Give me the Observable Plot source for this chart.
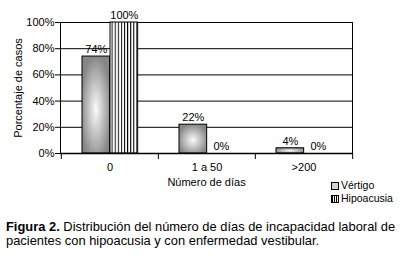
<!DOCTYPE html>
<html>
<head>
<meta charset="utf-8">
<script src="https://cdn.jsdelivr.net/npm/d3@7"></script>
<script src="https://cdn.jsdelivr.net/npm/@observablehq/plot@0.6"></script>
<style>
  html, body { margin: 0; padding: 0; background: #fff; }
  #wrap { position: relative; width: 408px; height: 260px; font-family: "Liberation Sans", Arial, sans-serif; }
  #legend { position: absolute; left: 331px; top: 179px; font-size: 10.5px; color: #000; line-height: 13px; }
  #legend .row { display: flex; align-items: center; height: 13px; }
  #legend .sw { width: 8px; height: 8px; border: 1px solid #000; margin-right: 2px; box-sizing: border-box; }
  #caption { position: absolute; left: 6px; top: 220px; width: 402px; font-size: 12.9px; line-height: 14px; color: #000; }
  #caption div { white-space: nowrap; }
</style>
</head>
<body>
<div id="wrap">
  <div id="chart"></div>
  <div id="legend"></div>
  <div id="caption"><div><b>Figura 2.</b><span> Distribución del número de días de incapacidad laboral de</span></div><div>pacientes con hipoacusia y con enfermedad vestibular.</div></div>
</div>
<script>
const categories = ["0", "1 a 50", ">200"];
const series = ["Vértigo", "Hipoacusia"];
const vertigo = [0.74, 0.22, 0.04];
const hipoacusia = [1.00, 0.00, 0.00];
const yTicks = [0, 0.2, 0.4, 0.6, 0.8, 1.0];

const data = [];
categories.forEach((c, i) => {
  data.push({cat: c, serie: "Vértigo", value: vertigo[i]});
  data.push({cat: c, serie: "Hipoacusia", value: hipoacusia[i]});
});

const W = 408, H = 195, ML = 60, MR = 56, MT = 22, MB = 42;
const bw = (W - ML - MR) / categories.length;
const barW = 28, off1 = 21, off2 = 49;
const pct = d3.format(".0%");

const fills = {"Vértigo": "url(#gradV)", "Hipoacusia": "url(#stripes)"};
const insL = {"Vértigo": off1, "Hipoacusia": off2};

const plot = Plot.plot({
  width: W, height: H,
  marginLeft: ML, marginRight: MR, marginTop: MT, marginBottom: MB,
  style: {fontFamily: "Liberation Sans, Arial, sans-serif", fontSize: "11px", color: "#000", background: "transparent"},
  x: {domain: categories, padding: 0},
  y: {domain: [0, 1]},
  marks: [
    Plot.gridY(yTicks, {stroke: "#000", strokeOpacity: 1, strokeWidth: 1}),
    Plot.frame({anchor: "left", stroke: "#000"}),
    Plot.frame({anchor: "right", stroke: "#000"}),
    ...series.map(s => Plot.barY(data.filter(d => d.serie === s && d.value > 0), {
      x: "cat", y: "value",
      fill: fills[s], stroke: "#000", strokeWidth: 1,
      insetLeft: insL[s], insetRight: bw - insL[s] - barW
    })),
    ...series.map(s => Plot.text(data.filter(d => d.serie === s), {
      x: "cat", y: "value", text: d => pct(d.value),
      dx: insL[s] + barW / 2 - bw / 2, dy: -7, fontSize: 11, fill: "#000"
    })),
    Plot.ruleY([0], {stroke: "#000", strokeWidth: 1.5}),
    Plot.axisY({ticks: yTicks, tickFormat: pct, tickSize: 5, tickPadding: 1, fontSize: 11,
      label: "Porcentaje de casos", labelAnchor: "center", labelArrow: "none", labelOffset: 46}),
    Plot.axisX({tickSize: 0, tickPadding: 10, fontSize: 11,
      label: "Número de días", labelAnchor: "center", labelArrow: "none", labelOffset: 32}),
    Plot.axisX({tickSize: 6, tickFormat: () => "", dx: -bw / 2, label: null}),
    Plot.axisX({ticks: [categories[categories.length - 1]], tickSize: 6, tickFormat: () => "", dx: bw / 2, label: null})
  ]
});

const svg = d3.select(plot);
const defs = svg.insert("defs", ":first-child");
const g = defs.append("radialGradient").attr("id", "gradV")
  .attr("cx", 0.5).attr("cy", 0.55).attr("r", 0.62);
g.append("stop").attr("offset", 0).attr("stop-color", "#fbfbfb");
g.append("stop").attr("offset", 0.9).attr("stop-color", "#868686");
const p = defs.append("pattern").attr("id", "stripes").attr("patternUnits", "userSpaceOnUse")
  .attr("width", 3.1).attr("height", 10);
p.append("rect").attr("width", 3.1).attr("height", 10).attr("fill", "#fff");
p.append("rect").attr("x", 0).attr("width", 1).attr("height", 10).attr("fill", "#000");

document.getElementById("chart").appendChild(plot);

// legend
const leg = document.getElementById("legend");
const legFill = {"Vértigo": "background:#d2d2d2;", "Hipoacusia": "background: repeating-linear-gradient(90deg,#000 0 1px,#fff 1px 2px);"};
series.forEach(s => {
  leg.insertAdjacentHTML("beforeend", `<div class="row"><span class="sw" style="${legFill[s]}"></span><span>${s}</span></div>`);
});
</script>
</body>
</html>
